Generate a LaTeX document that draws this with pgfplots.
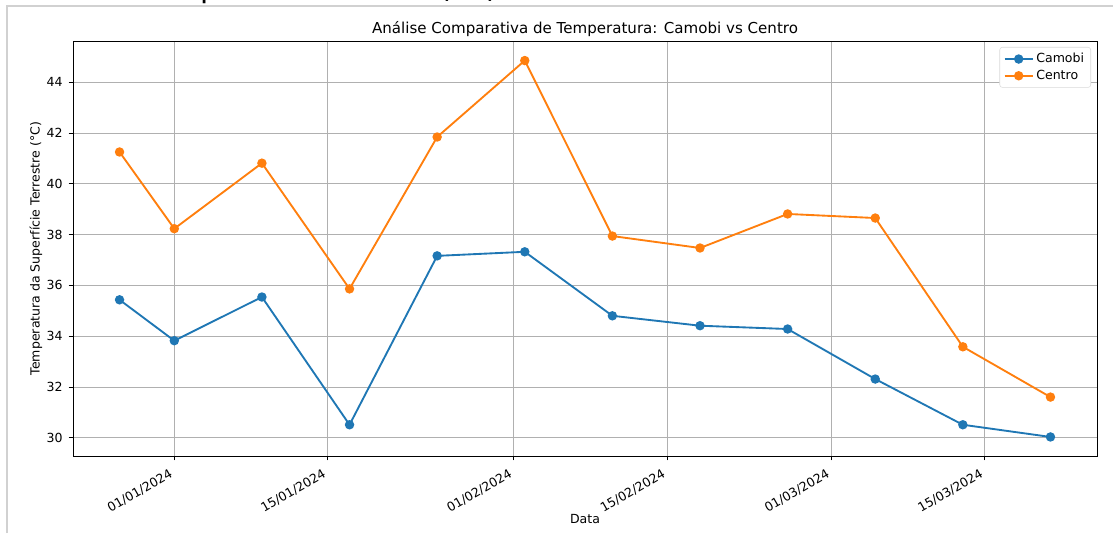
\documentclass[border=0pt]{standalone}
\usepackage{fontspec}
\setmainfont{DejaVu Sans}
\usepackage{pgfplots}
\pgfplotsset{compat=1.18}
\definecolor{cA}{HTML}{1F77B4}
\definecolor{cB}{HTML}{FF7F0E}
\definecolor{gridc}{HTML}{B0B0B0}
\pgfplotstableread{
x camobi centro
-5 35.43 41.25
0 33.82 38.23
8 35.54 40.81
16 30.51 35.86
24 37.16 41.84
32 37.32 44.85
40 34.80 37.94
48 34.41 37.47
56 34.28 38.81
64 32.31 38.65
72 30.51 33.58
80 30.03 31.60
}\datatable
\begin{document}
\begin{tikzpicture}
\useasboundingbox (0,0) rectangle (834.75pt,399.75pt);
\begin{scope}
\clip (0,0) rectangle (834.75pt,399.75pt);
\node[anchor=base west, inner sep=0pt, font=\fontsize{22.5pt}{27pt}\selectfont] at (104.25pt,401.25pt) {Temperatura Média (°C)};
\end{scope}
\draw[line width=1.5pt, color=black!18] (5.6pt,0) -- (5.6pt,395.25pt) -- (834.75pt,395.25pt);
\begin{axis}[
  at={(54.75pt,57.75pt)}, anchor=south west,
  scale only axis, width=768pt, height=311.25pt,
  xmin=-9.25, xmax=84.25, ymin=29.28, ymax=45.62,
  xtick={0,14,31,45,60,74},
  xticklabels={01/01/2024,15/01/2024,01/02/2024,15/02/2024,01/03/2024,15/03/2024},
  ytick={30,32,34,36,38,40,42,44},
  /pgf/number format/assume math mode=true,
  tick label style={font=\fontsize{9.4pt}{11pt}\selectfont},
  xticklabel style={rotate=30, anchor=north east, xshift=-3.1pt, yshift=0.6pt},
  yticklabel style={xshift=-1pt},
  tick align=outside, major tick length=3.3pt,
  tick style={black, line width=0.6pt},
  xtick pos=bottom, ytick pos=left,
  axis line style={black, line width=0.6pt},
  grid=major, major grid style={gridc, line width=0.6pt},
  title={Análise Comparativa de Temperatura: Camobi vs Centro},
  title style={font=\fontsize{11.3pt}{13pt}\selectfont, yshift=-6.5pt},
  xlabel={Data}, ylabel={Temperatura da Superfície Terrestre (°C)},
  label style={font=\fontsize{9.4pt}{11pt}\selectfont},
  xlabel style={at={(axis description cs:0.5,-0.152)}, anchor=center},
  ylabel style={at={(axis description cs:-0.0361,0.5)}, anchor=center},
  legend style={at={(1,1)}, anchor=north east, xshift=-4.5pt, yshift=-4.5pt,
    draw=black!15, rounded corners=2pt, fill=white,
    font=\fontsize{9.4pt}{11pt}\selectfont, row sep=0pt,
    inner xsep=3pt, inner ysep=2.5pt},
  legend cell align=left,
  legend image code/.code={\draw[mark repeat=2,mark phase=2] plot coordinates {(0cm,0cm) (0.37cm,0cm) (0.74cm,0cm)};},
]
\addplot[cA, line width=1.4pt, mark=*, mark size=2.8pt, mark options={solid}] table[x=x,y=camobi]{\datatable};
\addlegendentry{Camobi}
\addplot[cB, line width=1.4pt, mark=*, mark size=2.8pt, mark options={solid}] table[x=x,y=centro]{\datatable};
\addlegendentry{Centro}
\end{axis}
\end{tikzpicture}
\end{document}
